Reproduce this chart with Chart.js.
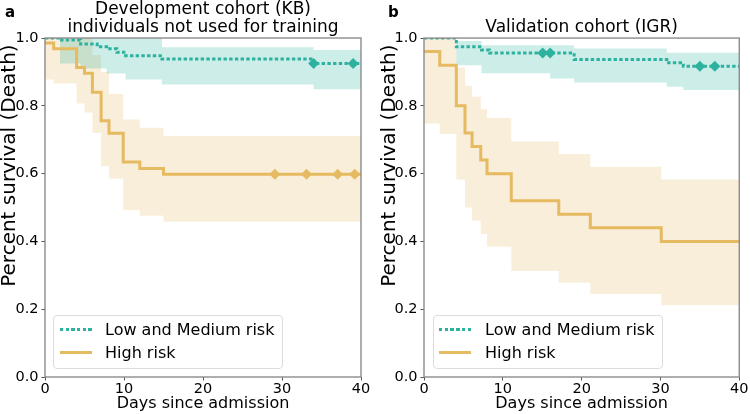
<!DOCTYPE html>
<html>
<head>
<meta charset="utf-8">
<script src="https://cdn.jsdelivr.net/npm/chart.js@4.4.0/dist/chart.umd.min.js"></script>
<style>
body { margin: 0; background: #fff; font-family: 'DejaVu Sans', sans-serif; }
#wrap { position: relative; width: 750px; height: 414px; overflow: hidden; }
#wrap canvas { position: absolute; top: 0; }
#devChart { left: 0; }
#valChart { left: 375px; }
.panel { position: absolute; top: 5px; font-weight: bold; font-size: 15px; line-height: 15px; color: #000; }
.legend { position: absolute; width: 230px; height: 54px; border: 1px solid #dcdcdc; border-radius: 4px; background: rgba(255,255,255,0.8); box-sizing: border-box; }
.key { position: absolute; font-size: 16px; line-height: 16px; color: #000; white-space: nowrap; }
.swatch { position: absolute; height: 3px; width: 32px; }
.dots { background: repeating-linear-gradient(90deg, rgb(46,178,160) 0 3.4px, transparent 3.4px 5.7px); }
.solid { background: rgb(230,186,96); }
</style>
</head>
<body>
<div id="wrap">
  <canvas id="devChart" width="375" height="414"></canvas>
  <canvas id="valChart" width="375" height="414"></canvas>
  <div class="panel" style="left:5px">a</div>
  <div class="panel" style="left:388px">b</div>

  <div class="legend" style="left:53px; top:315px"></div>
  <div class="swatch dots" style="left:60px; top:328px"></div>
  <div class="key" style="left:105px; top:322px">Low and Medium risk</div>
  <div class="swatch solid" style="left:60px; top:351px"></div>
  <div class="key" style="left:105px; top:345px">High risk</div>

  <div class="legend" style="left:433px; top:315px"></div>
  <div class="swatch dots" style="left:439px; top:328px"></div>
  <div class="key" style="left:485px; top:322px">Low and Medium risk</div>
  <div class="swatch solid" style="left:439px; top:351px"></div>
  <div class="key" style="left:485px; top:345px">High risk</div>
</div>
<script>
// Development cohort (KB) - survival curves
const devLowDays = [0, 1.9, 4.5, 6.6, 7.8, 9.1, 10.2, 14.8, 34, 40];
const devLowSurv = [1.0, 0.994, 0.982, 0.974, 0.968, 0.958, 0.948, 0.938, 0.925, 0.925];
const devLowCensor = [34, 39];
const devLowBandDays = [0, 1.9, 4.5, 7.8, 10.2, 14.8, 34, 40];
const devLowUpper = [1.0, 1.0, 1.0, 1.0, 1.0, 0.973, 0.965, 0.965];
const devLowLower = [1.0, 0.925, 0.91, 0.895, 0.878, 0.863, 0.849, 0.849];

const devHighDays = [0, 1.1, 4.0, 5.0, 6.0, 7.1, 8.1, 9.9, 12.0, 15.0, 40];
const devHighSurv = [0.985, 0.968, 0.913, 0.896, 0.84, 0.756, 0.719, 0.634, 0.615, 0.598, 0.598];
const devHighCensor = [29.1, 33.1, 37.05, 39.2];
const devHighUpper = [1.0, 1.0, 1.0, 1.0, 0.95, 0.9, 0.835, 0.76, 0.735, 0.711, 0.711];
const devHighLower = [0.878, 0.866, 0.807, 0.78, 0.72, 0.622, 0.585, 0.493, 0.476, 0.458, 0.458];

// Validation cohort (IGR)
const valLowDays = [0, 4.1, 7.3, 8.3, 19.05, 30.8, 32.9, 40];
const valLowSurv = [1.0, 0.974, 0.965, 0.956, 0.937, 0.927, 0.917, 0.917];
const valLowCensor = [15.06, 16.0, 35.0, 36.9];
const valLowBandDays = [0, 4.1, 7.3, 16.0, 19.05, 30.8, 32.9, 40];
const valLowUpper = [1.0, 0.991, 0.979, 0.979, 0.969, 0.957, 0.957, 0.957];
const valLowLower = [1.0, 0.92, 0.896, 0.881, 0.869, 0.856, 0.847, 0.847];

const valHighDays = [0, 2.0, 4.1, 5.2, 6.1, 7.2, 8.0, 11.07, 17.1, 21.1, 30.1, 40];
const valHighSurv = [0.96, 0.92, 0.80, 0.72, 0.68, 0.64, 0.60, 0.52, 0.48, 0.44, 0.40, 0.40];
const valHighCensor = [];
const valHighUpper = [1.0, 1.0, 0.913, 0.859, 0.827, 0.79, 0.764, 0.695, 0.658, 0.62, 0.583, 0.583];
const valHighLower = [0.748, 0.717, 0.583, 0.50, 0.461, 0.422, 0.384, 0.313, 0.278, 0.245, 0.212, 0.212];

const xTicks = [0, 10, 20, 30, 40];
const yTicks = [0, 0.2, 0.4, 0.6, 0.8, 1.0];

const FONT = "'DejaVu Sans', sans-serif";
const TEAL = 'rgb(46,178,160)';
const ORANGE = 'rgb(230,186,96)';
const TEAL_BAND = 'rgba(46,178,160,0.24)';
const ORANGE_BAND = 'rgba(230,186,96,0.24)';

function steps(days, vals) {
    return days.map((d, i) => ({ x: d, y: vals[i] }));
}

// survival value of a step curve at time t (for the censor marks)
function survAt(days, vals, t) {
    let v = vals[0];
    for (let i = 0; i < days.length; i++) {
        if (days[i] <= t) v = vals[i];
    }
    return v;
}

function censorPoints(days, vals, marks) {
    return marks.map(t => ({ x: t, y: survAt(days, vals, t) }));
}

function curve(data, color, dash) {
    return { data: data, borderColor: color, borderWidth: 3, borderDash: dash || [],
             stepped: true, pointRadius: 0, fill: false };
}

function band(data, color, fillTo) {
    return { data: data, borderWidth: 0, borderColor: 'rgba(0,0,0,0)', backgroundColor: color,
             stepped: true, pointRadius: 0, fill: fillTo };
}

function marks(data, color) {
    return { data: data, showLine: false, pointStyle: 'rectRot', pointRadius: 5.5,
             pointBackgroundColor: color, pointBorderWidth: 0, borderColor: color, fill: false };
}

// grey box round the plot area
const frame = {
    id: 'frame',
    afterDatasetsDraw(chart) {
        const a = chart.chartArea;
        const c = chart.ctx;
        c.save();
        c.strokeStyle = '#8c8c8c';
        c.lineWidth = 1.4;
        c.strokeRect(a.left, a.top, a.right - a.left, a.bottom - a.top);
        c.restore();
    }
};

function kmOptions(title, titlePadding, axisWidth, rightPad, yTitlePad) {
    return {
        responsive: false,
        animation: false,
        events: [],
        layout: { padding: { left: 0, right: rightPad, top: 0, bottom: 0 } },
        plugins: {
            legend: { display: false },
            tooltip: { enabled: false },
            title: {
                display: true, text: title, fullSize: false, color: '#000',
                font: { family: FONT, size: 17, weight: 'normal', lineHeight: 1.08 },
                padding: titlePadding
            }
        },
        scales: {
            x: {
                type: 'linear', min: 0, max: 40,
                afterFit: s => { s.height = 37; },
                afterBuildTicks: s => { s.ticks = xTicks.map(v => ({ value: v })); },
                ticks: { color: '#000', font: { family: FONT, size: 14.5, lineHeight: 1 }, padding: 1.5, maxRotation: 0 },
                grid: { drawOnChartArea: false, tickLength: 3.5, tickColor: '#555', tickWidth: 1 },
                border: { display: false },
                title: {
                    display: true, text: 'Days since admission', color: '#000',
                    font: { family: FONT, size: 16, lineHeight: 1.2 }, padding: { top: 0, bottom: 0.6 }
                }
            },
            y: {
                type: 'linear', min: 0, max: 1,
                afterFit: s => { s.width = axisWidth; },
                afterBuildTicks: s => { s.ticks = yTicks.map(v => ({ value: v })); },
                ticks: { color: '#000', font: { family: FONT, size: 14.5 }, padding: 3, callback: v => v.toFixed(1) },
                grid: { drawOnChartArea: false, tickLength: 3.5, tickColor: '#555', tickWidth: 1 },
                border: { display: false },
                title: {
                    // trailing space keeps the end of the label a little below the top of the axes
                    display: true, text: 'Percent survival (Death) ', color: '#000', align: 'end',
                    font: { family: FONT, size: 20, lineHeight: 1 }, padding: { top: yTitlePad, bottom: 0 }
                }
            }
        }
    };
}

function kmChart(id, low, high, opts) {
    return new Chart(document.getElementById(id), {
        type: 'line',
        data: {
            datasets: [
                curve(steps(low.days, low.surv), TEAL, [3.4, 2.3]),
                marks(censorPoints(low.days, low.surv, low.censor), TEAL),
                curve(steps(high.days, high.surv), ORANGE),
                marks(censorPoints(high.days, high.surv, high.censor), ORANGE),
                band(steps(low.bandDays, low.upper), TEAL_BAND, '+1'),
                band(steps(low.bandDays, low.lower), TEAL_BAND, false),
                band(steps(high.days, high.upper), ORANGE_BAND, '+1'),
                band(steps(high.days, high.lower), ORANGE_BAND, false)
            ]
        },
        options: opts,
        plugins: [frame]
    });
}

kmChart('devChart',
    { days: devLowDays, surv: devLowSurv, censor: devLowCensor, bandDays: devLowBandDays, upper: devLowUpper, lower: devLowLower },
    { days: devHighDays, surv: devHighSurv, censor: devHighCensor, upper: devHighUpper, lower: devHighLower },
    kmOptions(['Development cohort (KB)', 'individuals not used for training'], { top: 0, bottom: 1.3 }, 45, 14, 0));

kmChart('valChart',
    { days: valLowDays, surv: valLowSurv, censor: valLowCensor, bandDays: valLowBandDays, upper: valLowUpper, lower: valLowLower },
    { days: valHighDays, surv: valHighSurv, censor: valHighCensor, upper: valHighUpper, lower: valHighLower },
    kmOptions('Validation cohort (IGR)', { top: 18.8, bottom: 0.9 }, 49, 9, 5));
</script>
</body>
</html>
